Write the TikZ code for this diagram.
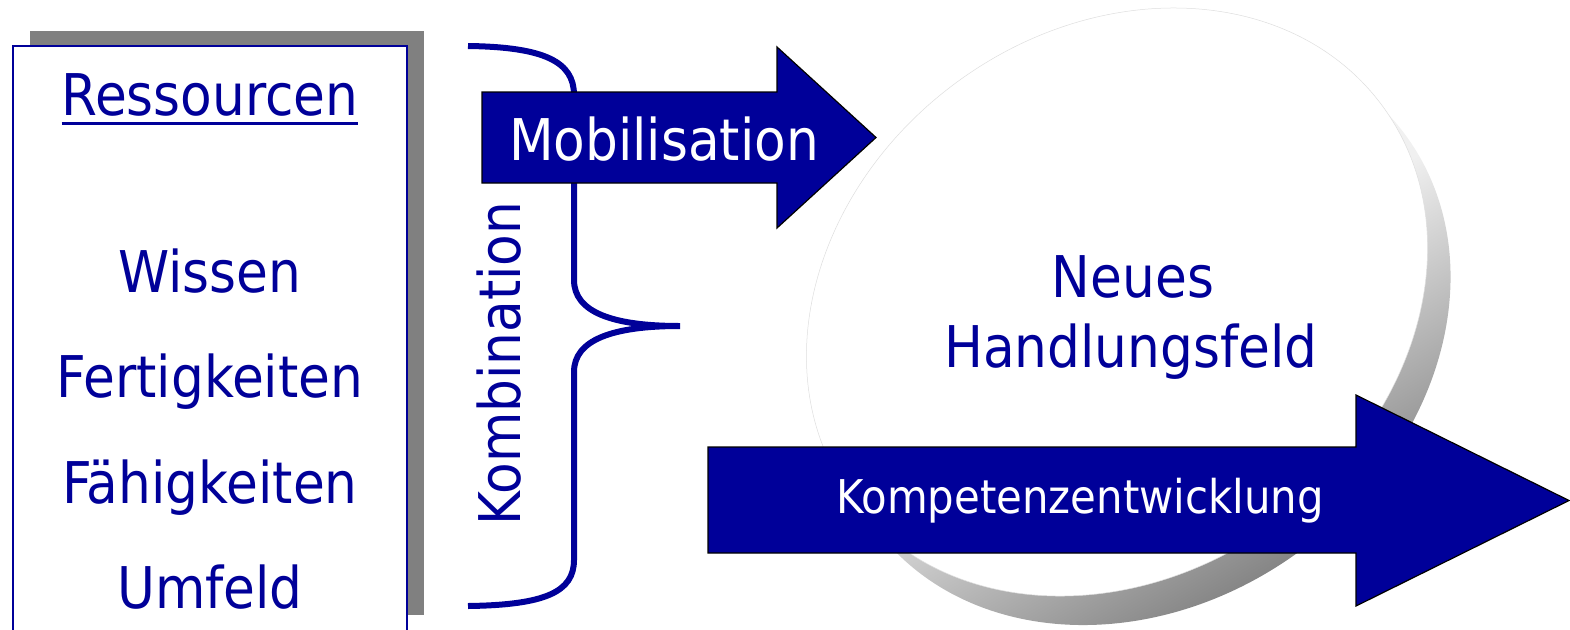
\documentclass[tikz,border=0pt]{standalone}
\usepackage{fontspec}
\setmainfont{DejaVu Sans Condensed}
\usetikzlibrary{calc}
\definecolor{dblue}{HTML}{000099}
\definecolor{boxshadow}{HTML}{808080}
\definecolor{shdark}{HTML}{7A7A7A}
\definecolor{shmid}{HTML}{F0F0F0}
\definecolor{elline}{HTML}{DEDEDE}
\begin{document}
\begin{tikzpicture}[x=1pt,y=-1pt,
  every node/.style={inner sep=0pt,outer sep=0pt},
  bigfont/.style={font=\fontsize{57.5}{62}\selectfont},
  txt/.style={bigfont,text=dblue,anchor=base},
  wtxt/.style={text=white,anchor=base},
  arrowbody/.style={fill=dblue,draw=black,line width=1.2pt,line join=miter},
  bracestyle/.style={draw=dblue,line width=6pt},
  ul/.style={draw=dblue,line width=3pt}]
\useasboundingbox (0,0) rectangle (1570,629);

% resources box with shadow
\fill[boxshadow] (30,31) rectangle (424,615);
\draw[draw=dblue,fill=white,line width=1.5pt] (13,46) rectangle (407,660);

% ellipse with shadow
\coordinate (ec) at (1117,302);
\coordinate (sc) at (1140,331);
\begin{scope}
  \clip[rotate around={36.7:(sc)}] (sc) ellipse [x radius=330,y radius=272];
  \shade[shading=axis,top color=white,bottom color=shdark,middle color=shmid,shading angle=30]
    (820,-5) rectangle (1460,635);
\end{scope}
\draw[draw=elline,fill=white,line width=0.5pt,rotate around={36.7:(ec)}]
  (ec) ellipse [x radius=330,y radius=272];

% brace
\draw[bracestyle] (468,46) .. controls (545,47) and (574,62) .. (574,95)
  -- (574,280) .. controls (574,312) and (612,326) .. (680,326)
  .. controls (612,326) and (574,340) .. (574,372)
  -- (574,560) .. controls (574,592) and (545,605) .. (468,606);

% arrows
\path[arrowbody] (482,92) -- (777,92) -- (777,47) -- (876,137.5) -- (777,228)
  -- (777,183) -- (482,183) -- cycle;
\path[arrowbody] (708,447) -- (1356,447) -- (1356,395) -- (1569,500.5)
  -- (1356,606) -- (1356,553) -- (708,553) -- cycle;

% texts
\node[txt] (res) at (210,115) {Ressourcen};
\draw[ul] ([yshift=-8pt]res.base west) -- ([yshift=-8pt]res.base east);
\node[txt] (wis) at (210,292) {Wissen};
\node[txt] (fer) at (210,397) {Fertigkeiten};
\node[txt] (fae) at (210,503) {Fähigkeiten};
\node[txt] (umf) at (210,608) {Umfeld};
\node[txt,rotate=90] (kom) at (520,363.5) {Kombination};
\node[wtxt,bigfont] (mob) at (664,160) {Mobilisation};
\node[txt] (neu) at (1133,297) {Neues};
\node[txt] (han) at (1131,367) {Handlungsfeld};
\node[wtxt,font=\fontsize{46.5}{50}\selectfont] (kpt) at (1080,513) {Kompetenzentwicklung};
\end{tikzpicture}
\end{document}
